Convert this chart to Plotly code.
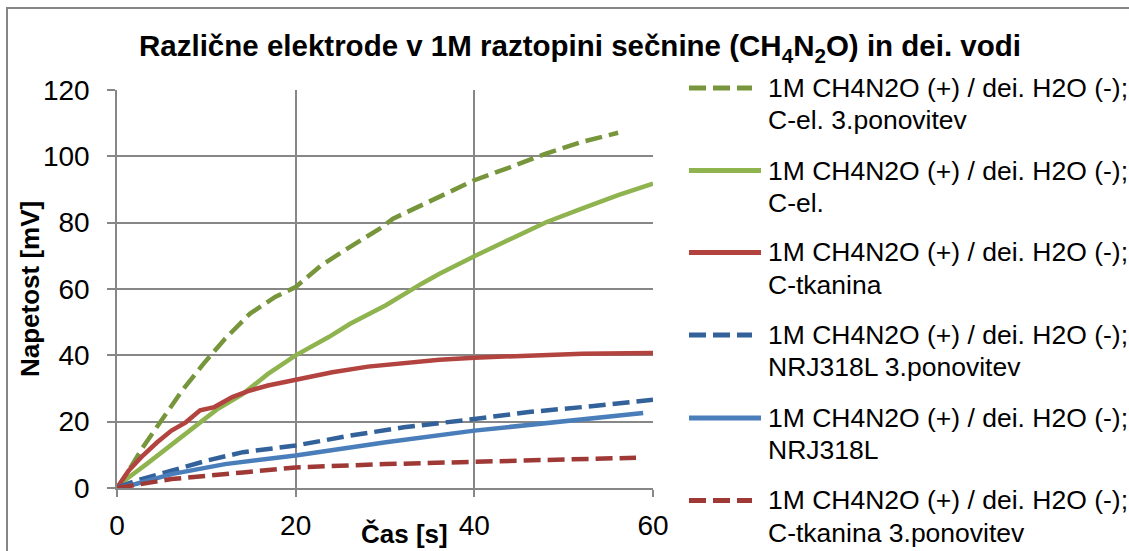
import plotly.graph_objects as go

# ---- data ----
t_green_dash = [0, 1.3, 2.9, 4.9, 7.3, 9.7, 12.1, 14.9, 17.7, 20, 22.9, 26.1, 29.7, 30.9, 36.1, 40, 44.1, 48.1, 52.1, 56.1]
v_green_dash = [0, 5.2, 12.3, 20.3, 29.4, 37.5, 45, 52.6, 57.6, 60.6, 67.2, 72.7, 78.7, 81.2, 87.8, 92.8, 96.8, 100.9, 104.4, 107.1]

t_green = [0, 1.3, 3.3, 5.3, 7.3, 9.3, 11.3, 14.1, 16.9, 20, 23.7, 26.1, 30.1, 34.1, 36.1, 40, 44.1, 48.1, 52.1, 56.1, 60]
v_green = [0, 3.2, 7.2, 11.3, 15.8, 19.8, 23.9, 28.4, 34.4, 40, 45.5, 49.5, 55.1, 61.6, 64.6, 69.9, 75.2, 80.2, 84.3, 88.3, 91.8]

t_red = [0, 1.3, 2.9, 4.5, 6.1, 7.7, 9.3, 10.9, 12.9, 14.9, 16.9, 20, 24.1, 28.1, 32.1, 36.1, 40, 46.1, 52.1, 60]
v_red = [0, 5.2, 9.8, 13.8, 17.3, 19.8, 23.4, 24.4, 27.4, 29.4, 30.9, 32.6, 34.9, 36.6, 37.7, 38.7, 39.3, 40.0, 40.5, 40.7]

t_blue_dash = [0, 2.1, 6.1, 10.1, 14.1, 20, 26.1, 32.1, 40, 46.1, 52.1, 60]
v_blue_dash = [0, 2.2, 5.2, 8.3, 10.8, 12.8, 15.8, 18.3, 20.8, 22.9, 24.4, 26.6]

t_blue = [0, 2.1, 6.1, 12.1, 20, 30.1, 40, 50.1, 58.9]
v_blue = [0, 1.2, 4.2, 7.2, 9.8, 13.8, 17.3, 20.3, 22.6]

t_red_dash = [0, 2.1, 6.1, 14.1, 20, 30.1, 40, 50.1, 58.1]
v_red_dash = [0, 1.0, 2.7, 4.7, 6.2, 7.2, 8.0, 8.6, 9.1]

names = [
    "1M CH4N2O (+) / dei. H2O (-);<br>C-el. 3.ponovitev",
    "1M CH4N2O (+) / dei. H2O (-);<br>C-el.",
    "1M CH4N2O (+) / dei. H2O (-);<br>C-tkanina",
    "1M CH4N2O (+) / dei. H2O (-);<br>NRJ318L 3.ponovitev",
    "1M CH4N2O (+) / dei. H2O (-);<br>NRJ318L",
    "1M CH4N2O (+) / dei. H2O (-);<br>C-tkanina 3.ponovitev",
]

x_ticks = [0, 20, 40, 60]
y_ticks = [0, 20, 40, 60, 80, 100, 120]

DASH = "17px,7px"
series = [
    (t_green_dash, v_green_dash, "#77963C", DASH),
    (t_green, v_green, "#8FB34F", "solid"),
    (t_red, v_red, "#B2433F", "solid"),
    (t_blue_dash, v_blue_dash, "#33619A", DASH),
    (t_blue, v_blue, "#4A7EBB", "solid"),
    (t_red_dash, v_red_dash, "#9E3936", DASH),
]

FONT = "Liberation Sans, Arial, sans-serif"

W, H = 1129, 551
L, R, T, B = 117, 653, 90, 488          # plot area in page pixels
pw, ph = R - L, B - T


def px_x(p):
    return (p - L) / pw


def px_y(p):
    return (B - p) / ph


fig = go.Figure()
for i, ((tx, vy, col, dash), nm) in enumerate(zip(series, names)):
    fig.add_trace(go.Scatter(
        x=tx, y=vy, mode="lines", name=nm.replace("<br>", " "),
        line=dict(color=col, width=4.5, dash=dash), showlegend=False,
    ))

fig.update_layout(
    width=W, height=H,
    margin=dict(l=L, r=W - R, t=T, b=H - B, autoexpand=False),
    paper_bgcolor="white", plot_bgcolor="white",
    font=dict(family=FONT, color="black", size=26),
    title=dict(
        text="Različne elektrode v 1M raztopini sečnine (CH<sub>4</sub>N<sub>2</sub>O) in dei. vodi",
        x=580 / W, y=1 - 46 / H, xanchor="center", yanchor="middle",
        font=dict(family=FONT, size=29.5, color="black", weight="bold"),
    ),
    xaxis=dict(
        range=[0, 60], tickvals=x_ticks, ticktext=[str(v) for v in x_ticks],
        showgrid=True, gridcolor="#878787", gridwidth=1.5,
        showline=True, linecolor="#878787", linewidth=1.5,
        ticks="outside", ticklen=7, tickcolor="#878787", tickwidth=1.5,
        tickfont=dict(size=28, color="black", family=FONT),
        zeroline=False, ticklabelstandoff=5,
    ),
    yaxis=dict(
        range=[0, 120], tickvals=y_ticks, ticktext=[str(v) for v in y_ticks],
        showgrid=True, gridcolor="#878787", gridwidth=1.5,
        showline=True, linecolor="#878787", linewidth=1.5,
        ticks="outside", ticklen=8, tickcolor="#878787", tickwidth=1.5,
        tickfont=dict(size=28, color="black", family=FONT),
        zeroline=False, ticklabelstandoff=12,
    ),
    showlegend=False,
)

# axis titles as annotations (placed like the reference)
fig.add_annotation(
    text="Čas [s]", xref="paper", yref="paper",
    x=px_x(404), y=px_y(534), xanchor="center", yanchor="middle",
    showarrow=False, font=dict(size=26, color="black", family=FONT, weight="bold"),
)
fig.add_annotation(
    text="Napetost [mV]", xref="paper", yref="paper",
    x=px_x(30), y=0.5, xanchor="center", yanchor="middle", textangle=-90,
    showarrow=False, font=dict(size=26, color="black", family=FONT, weight="bold"),
)

# legend drawn to match the reference layout (sample lines + two-line labels)
legend_y = [88, 170.5, 252.5, 335, 418, 500.5]
for (tx, vy, col, dash), nm, ly in zip(series, names, legend_y):
    x_end = 752 if dash != "solid" else 761
    fig.add_shape(
        type="line", xref="paper", yref="paper",
        x0=px_x(689), x1=px_x(x_end), y0=px_y(ly), y1=px_y(ly),
        line=dict(color=col, width=5, dash=dash),
    )
    line1, line2 = nm.split("<br>")
    for txt, yy in ((line1, ly), (line2, ly + 32)):
        fig.add_annotation(
            text=txt, xref="paper", yref="paper",
            x=px_x(766), y=px_y(yy), xanchor="left", yanchor="middle",
            showarrow=False, font=dict(size=26.5, color="black", family=FONT),
        )

# outer chart border
fig.add_shape(
    type="rect", xref="paper", yref="paper",
    x0=px_x(7), y0=px_y(580), x1=px_x(1160), y1=px_y(8),
    line=dict(color="#868686", width=2), fillcolor="rgba(0,0,0,0)", layer="below",
)

fig.write_html(
    "out.html",
    config={"displayModeBar": False},
    post_script="document.body.style.margin='0';document.body.style.overflow='hidden';",
)
